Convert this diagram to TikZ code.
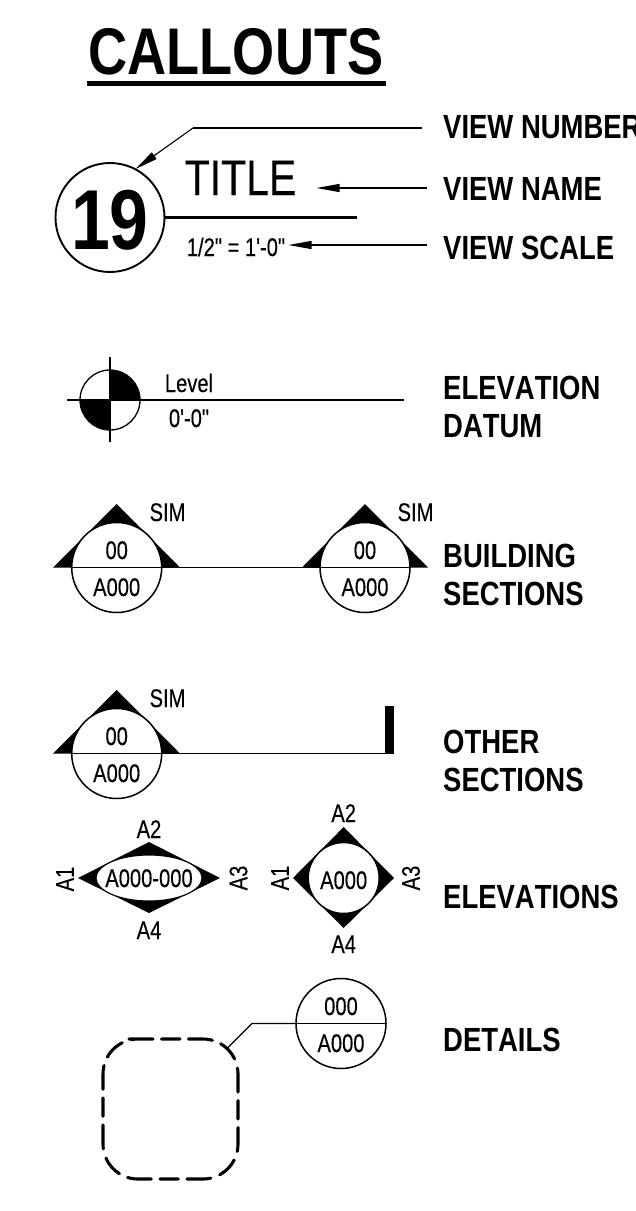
\documentclass[tikz,border=0pt]{standalone}
\usepackage{fontspec}
\usetikzlibrary{arrows.meta,shapes.geometric}
\newfontfamily\nf[FakeStretch=0.79,FakeBold=0.25,Kerning=Off]{Liberation Sans}
\newfontfamily\nt[FakeStretch=0.82,FakeBold=0.25,Kerning=Off]{Liberation Sans}
\newfontfamily\nb[FakeStretch=0.82,Kerning=Off]{Liberation Sans Bold}
\tikzset{
  x=1pt,y=-1pt,
  thin line/.style={line width=1.2pt,black},
  pointer/.style={line width=1.1pt,-{Triangle[length=23pt,width=8pt]}},
  ring/.style={circle,draw,line width=1.5pt,fill=white,inner sep=0,minimum size=#1},
  txt/.style={inner sep=0,anchor=base,font=\nf\fontsize{25.5pt}{25.5pt}\selectfont},
  vtxt/.style={inner sep=0,anchor=center,rotate=90,font=\nf\fontsize{25.5pt}{25.5pt}\selectfont},
  lab/.style={inner sep=0,anchor=base west,font=\nb\fontsize{33.5pt}{33.5pt}\selectfont},
  blob/.style={fill=black,draw=none},
}
\begin{document}
\begin{tikzpicture}
\useasboundingbox (0,0) rectangle (636,1211);
\fill[white] (0,0) rectangle (636,1211);
% title
\node[inner sep=0,anchor=base,font=\nb\fontsize{66pt}{66pt}\selectfont] (head) at (236,74) {CALLOUTS};
\fill (87,81) rectangle (386,86);
% right labels
\node[lab] (lnum) at (443,138) {VIEW NUMBER};
\node[lab] (lname) at (443,200) {VIEW NAME};
\node[lab] (lscale) at (443,259) {VIEW SCALE};
\node[lab] (lel1) at (443,399) {ELEVATION};
\node[lab] (lel2) at (443,437) {DATUM};
\node[lab] (lbs1) at (443,567) {BUILDING};
\node[lab] (lbs2) at (443,605) {SECTIONS};
\node[lab] (los1) at (443,753) {OTHER};
\node[lab] (los2) at (443,791) {SECTIONS};
\node[lab] (lelv) at (443,908) {ELEVATIONS};
\node[lab] (ldet) at (443,1051) {DETAILS};
% view title
\node[circle,draw,line width=1.9pt,fill=white,inner sep=0,minimum size=109pt] (vc) at (110,217.5) {};
\node[inner sep=0,anchor=base,font=\nb\fontsize{85pt}{85pt}\selectfont] (vn) at (110,249) {19};
\node[inner sep=0,anchor=base,font=\nt\fontsize{50pt}{50pt}\selectfont] (vt) at (240.5,195) {TITLE};
\node[txt] (vs) at (236,256) {1/2" = 1'-0"};
\coordinate (numS) at (422,128);
\coordinate (numK) at (193,128);
\coordinate (numE) at (135.5,169);
\coordinate (nameS) at (427,188);
\coordinate (nameE) at (316.5,188);
\coordinate (scaleS) at (427,245);
\coordinate (scaleE) at (288.5,245);
\coordinate (ruleE) at (357,217.5);
\draw[line width=1.1pt] (numS) -- (numK);
\draw[pointer] (numK) -- (numE);
\draw[pointer] (nameS) -- (nameE);
\draw[pointer] (scaleS) -- (scaleE);
\draw[line width=2.5pt] (vc.east) -- (ruleE);
% datum
\fill (110,400) -- (140,400) arc[start angle=0,end angle=90,radius=30pt] -- cycle;
\fill (110,400) -- (80,400) arc[start angle=180,end angle=270,radius=30pt] -- cycle;
\node[circle,draw,line width=1.3pt,inner sep=0,minimum size=60pt] (dc) at (110,400) {};
\coordinate (dl) at (67,400);
\coordinate (dr) at (404,400);
\coordinate (dt) at (110,357);
\coordinate (db) at (110,442);
\draw[thin line] (dl) -- (dr);
\draw[thin line] (dt) -- (db);
\node[txt] (dlev) at (189,392) {Level};
\node[txt] (dval) at (189,427) {0'-0"};
% building sections
\fill[blob] (116.7,504) -- (180,567.5) -- (53,567.5) -- cycle;
\fill[blob] (365,504) -- (428,567.5) -- (302,567.5) -- cycle;
\node[ring=90pt] (b1) at (116.7,567.5) {};
\node[ring=90pt] (b2) at (365,567.5) {};
\draw[thin line] (b1.west) -- (b1.east);
\draw[thin line] (b1.east) -- (b2.west);
\draw[thin line] (b2.west) -- (b2.east);
\node[txt] (b1a) at (116.7,559) {00};
\node[txt] (b1b) at (116.7,596) {A000};
\node[txt] (b2a) at (365,559) {00};
\node[txt] (b2b) at (365,596) {A000};
\node[txt] (b1s) at (167.5,521) {SIM};
\node[txt] (b2s) at (415.5,521) {SIM};
% other sections
\fill[blob] (116.7,690) -- (180,753.5) -- (53,753.5) -- cycle;
\node[ring=90pt] (o1) at (116.7,753.5) {};
\coordinate (oe) at (385,753.5);
\draw[thin line] (o1.west) -- (o1.east);
\draw[thin line] (o1.east) -- (oe);
\fill (385,706) rectangle (394,754);
\node[txt] (o1a) at (116.7,745) {00};
\node[txt] (o1b) at (116.7,782) {A000};
\node[txt] (o1s) at (167.5,707) {SIM};
% elevations
\fill[blob] (78,878) -- (149,842) -- (220,878) -- (149,913) -- cycle;
\node[ellipse,draw,line width=1.1pt,fill=white,inner sep=0,minimum width=106pt,minimum height=46pt] (e1) at (149,878) {};
\node[txt] (e1t) at (149,887) {A000-000};
\node[txt] (e1n) at (149,838) {A2};
\node[txt] (e1s) at (149,939) {A4};
\node[vtxt] (e1w) at (65,879) {A1};
\node[vtxt] (e1e) at (238.5,878) {A3};
\fill[blob] (293,878) -- (343.7,827) -- (394,878) -- (343.7,928) -- cycle;
\node[ring=71pt] (e2) at (343.7,878) {};
\node[txt] (e2t) at (343.7,889) {A000};
\node[txt] (e2n) at (343.7,822) {A2};
\node[txt] (e2s) at (343.7,953) {A4};
\node[vtxt] (e2w) at (280,878) {A1};
\node[vtxt] (e2e) at (411,878) {A3};
% details
\node[ring=90pt] (d1) at (341,1023.5) {};
\draw[thin line] (d1.west) -- (d1.east);
\node[txt] (d1a) at (341,1015) {000};
\node[txt] (d1b) at (341,1052) {A000};
\coordinate (dk) at (252,1023.5);
\coordinate (dtip) at (228,1047.5);
\draw[thin line] (d1.west) -- (dk) -- (dtip);
\draw[line width=3.1pt,line cap=round,rounded corners=35pt,
  dash pattern=on 24pt off 8.5pt on 18.5pt off 8.5pt on 24pt off 9pt on 21pt off 9.5pt]
  (129,1039) -- (238,1039) -- (238,1179) -- (103,1179) -- (103,1039) -- (129,1039);
\end{tikzpicture}
\end{document}
